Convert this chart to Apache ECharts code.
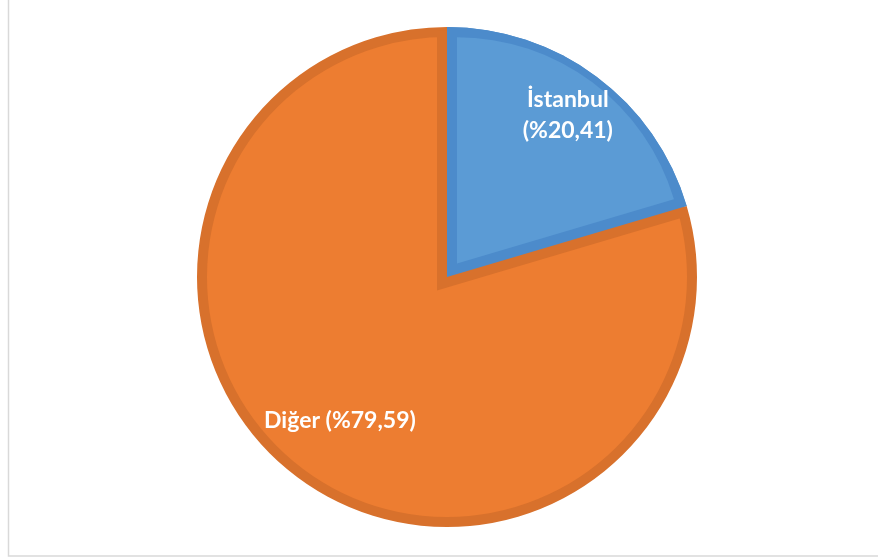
<!DOCTYPE html>
<html><head><meta charset="utf-8">
<script src="https://cdn.jsdelivr.net/npm/echarts@6/dist/echarts.min.js"></script>
<style>html,body{margin:0;padding:0;background:#fff}#c{width:878px;height:558px}</style>
</head><body><div id="c"></div>
<script>
const categories = ['İstanbul', 'Diğer'];
const shares = [20.41, 79.59];
const fillColors = ['#5B9BD5', '#ED7D31'];
const bandColors = ['#4C8BCB', '#D8712C'];

const chart = echarts.init(document.getElementById('c'), null, {renderer: 'canvas'});
const C = [447, 277];
const R = 250, BAND = 10;
const shift = BAND / Math.sin(Math.PI * shares[0] / 100);
const CLEAR = 'rgba(0,0,0,0)';
const fmt = v => v.toFixed(2).replace('.', ',');

function layer(z, radius, colorFn, extra, selIdx) {
  return Object.assign({
    type: 'pie', z: z, center: C, radius: radius, startAngle: 90, clockwise: true,
    animation: false, silent: true, selectedMode: 'multiple',
    label: {show: false}, labelLine: {show: false}, emphasis: {disabled: true},
    data: categories.map((name, i) => {
      const col = colorFn(i);
      return {
        name: name, value: shares[i], selected: i === selIdx,
        itemStyle: {color: col, borderWidth: 0},
        select: {itemStyle: {color: col, borderWidth: 0}}
      };
    })
  }, extra || {});
}

const series = [
  layer(1, R, i => bandColors[i]),
  layer(2, R - BAND, i => i === 1 ? fillColors[1] : CLEAR),
  layer(3, R + BAND, i => i === 0 ? bandColors[1] : CLEAR, {selectedOffset: -shift}, 0),
  layer(4, R, i => i === 0 ? bandColors[0] : CLEAR),
  layer(5, R - BAND - shift + 3, i => i === 0 ? fillColors[0] : CLEAR, {selectedOffset: shift}, 0)
];

function labelLayer(z, radius, idx) {
  return {
    type: 'pie', z: z, center: C, radius: radius, startAngle: 90, clockwise: true,
    animation: false, silent: true,
    itemStyle: {color: CLEAR, borderWidth: 0},
    labelLine: {show: false}, emphasis: {disabled: true},
    label: {
      show: true, position: 'inside', color: '#ffffff',
      fontFamily: 'Lato', fontWeight: 'bold', fontSize: 23, lineHeight: 31,
      formatter: p => p.dataIndex === 0
        ? p.name + '\n(%' + fmt(p.value) + ')'
        : p.name + ' (%' + fmt(p.value) + ')'
    },
    data: categories.map((name, i) => ({name: name, value: shares[i], label: {show: i === idx}}))
  };
}
series.push(labelLayer(10, [148, R], 0));
series.push(labelLayer(11, [102, R], 1));

chart.setOption({
  backgroundColor: '#ffffff',
  animation: false,
  graphic: [{
    type: 'rect', silent: true, z: -1,
    shape: {x: 8.5, y: -10, width: 900, height: 566},
    style: {fill: 'none', stroke: '#D9D9D9', lineWidth: 1.5}
  }],
  series: series
});
</script>
</body></html>
